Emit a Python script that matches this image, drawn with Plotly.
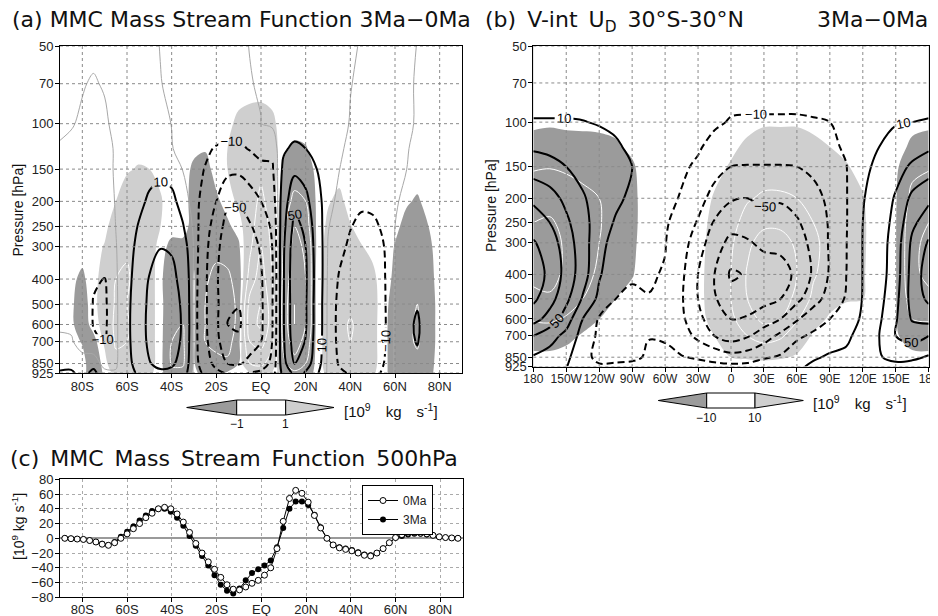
import numpy as np
import plotly.graph_objects as go

FONT = "DejaVu Sans"
TFONT = "Liberation Sans"
W, H = 938, 616
OFF = 8  # page margin of the host document, compensated in the layout helpers
DARK = "#9b9b9b"
LIGHT = "#cfcfcf"
EN = "\u2002"
EM = "\u2003"

# ---------------- shared axes data ----------------
PLEV = [50, 70, 100, 125, 150, 200, 250, 300, 400, 500, 600, 700, 850, 925]
P_TICKS = [50, 70, 100, 150, 200, 250, 300, 400, 500, 600, 700, 850, 925]
LAT_TICKS = [-80, -60, -40, -20, 0, 20, 40, 60, 80]
LAT_LABELS = ["80S", "60S", "40S", "20S", "EQ", "20N", "40N", "60N", "80N"]
LON_TICKS = [-180, -150, -120, -90, -60, -30, 0, 30, 60, 90, 120, 150, 180]
LON_LABELS = ["180", "150W", "120W", "90W", "60W", "30W", "0", "30E", "60E",
              "90E", "120E", "150E", "180"]

# ---------------- panel (a): latitude x pressure ----------------
LAT_A = list(range(-90, 91, 5))
# mass stream function, one column per latitude, values at PLEV
PSI_A_COLS = [
    [0.4, 0.3, 0.2, -0.1, -0.2, -0.4, -0.5, -0.5, -0.6, -0.5, -0.4, 0.5, 4, 12],
    [0.4, 0.2, 0.1, -0.3, -0.5, -0.8, -1, -1.2, -1.3, -1, -0.8, 0.5, 6, 12],
    [0.4, 0.1, -0.2, -0.8, -1.2, -1.8, -2.2, -2.5, -3, -3, -3, -2, 2, 6],
    [0.4, -0.15, -0.9, -1.5, -2.5, -4, -5.5, -7, -9, -10.5, -10.5, -8, 6, 13],
    [0.4, 0.15, -0.3, -1.2, -1.5, -3, -5, -7, -10.2, -12, -12, -10.5, -4, 3],
    [0.4, 0.3, 0.5, 0.4, 0.5, 0.4, 0.1, -0.3, -0.8, -1.2, -1.3, -1.2, -0.8, 0.5],
    [0.4, 0.4, 0.7, 1.2, 1.5, 2.2, 3, 3.8, 5, 6, 6.3, 6, 5, 4],
    [0.4, 0.4, 0.9, 2.5, 3.5, 6.5, 10.5, 13.5, 17, 19, 19.5, 19, 16, 12],
    [0.4, 0.3, 0.8, 3, 6, 12, 18.5, 24.5, 31, 34, 35, 34, 29, 22],
    [-0.05, 0.05, 0.5, 3, 7.4, 14.5, 22.5, 29.5, 37, 41, 42, 41, 35, 26.5],
    [-0.3, -0.3, -0.05, 0.4, 5, 13.5, 21.5, 28, 35, 39, 40, 39, 33, 25],
    [-0.4, -0.5, -1, -2.5, -0.3, 5, 11, 17, 24, 27, 28, 27, 23, 17],
    [-0.5, -0.6, -2, -5, -6, -4, -2, -1, -2, -3, -3, -3, -2.5, -1.5],
    [-0.5, -0.7, -2.5, -8, -10.5, -17, -22, -25, -27, -27, -27, -25.5, -21, -14],
    [-0.5, -0.7, -3, -11, -17, -30, -39, -44, -47, -46, -46, -44, -36, -25],
    [-0.5, -0.7, -3.3, -13, -25, -46, -58, -64, -67, -66, -70.5, -64, -50, -32],
    [-0.4, -0.6, -3.2, -13, -26, -48, -60, -66, -68, -69.5, -72, -67, -52, -34],
    [0.05, -0.1, -1.5, -9, -20, -40, -52, -58, -62, -62, -62, -58, -45, -29],
    [0.3, 0.2, -0.05, -5, -14, -30, -42, -48, -52, -53, -53, -50, -40, -26],
    [0.3, 0.4, 1.2, -6, -12, -20, -27, -30, -33, -32, -32, -30, -25, -18],
    [0.4, 0.6, 2, 8, 13, 20, 24, 27, 28, 28, 28, 27, 23, 16],
    [0.5, 0.7, 3, 12.8, 26, 45, 56, 62, 65, 64, 64, 61, 51, 35],
    [0.5, 0.7, 2.5, 10, 21, 36, 46, 50, 53, 52, 52, 49, 41, 29],
    [0.4, 0.6, 1.5, 5, 10, 16, 19, 21, 22, 21, 21, 20, 17, 12],
    [0.3, 0.4, 0.8, 2, 3, 2, 0.5, -0.5, -1.5, -2, -2, -2, -2, -1.5],
    [0.2, 0.2, 0.3, 0.5, 0.1, -1.5, -4, -7, -11, -13, -13.5, -13, -11, -8],
    [0.1, 0.03, -0.05, -0.7, -1.5, -6, -9.5, -12, -15.5, -17, -17.5, -17, -14.5, -11],
    [-0.05, -0.15, -0.5, -1.2, -2.5, -8, -12.7, -16.5, -20.7, -23, -23.7, -23, -19.5, -15],
    [-0.2, -0.3, -0.7, -1.5, -3, -7.7, -12, -15.8, -19.8, -22, -22.6, -22, -18.7, -14.3],
    [-0.3, -0.3, -0.6, -1.2, -2.2, -5, -8.5, -10.2, -11.5, -12, -12.4, -12, -10, -8],
    [-0.2, -0.25, -0.4, -0.6, -0.8, -0.5, 0, 0.4, 0.8, 1, 1.2, 1.2, 1, 0.8],
    [-0.2, -0.1, -0.1, -0.1, -0.05, 1, 2.5, 3.5, 5, 7, 8, 7.5, 5.5, 4],
    [0.02, 0.05, 0.05, 0.3, 0.6, 1.5, 3, 4.5, 6.5, 9.5, 11, 10.5, 7.5, 5],
    [0.2, 0.2, 0.3, 0.5, 0.6, 1, 1.8, 2.5, 3.5, 5, 6, 5.5, 4, 3],
    [0.2, 0.2, 0.3, 0.4, 0.4, 0.5, 0.8, 1, 1.5, 2, 2.5, 2.5, 2, 1.5],
    [0.1, 0.1, 0.15, 0.2, 0.2, 0.2, 0.3, 0.4, 0.5, 0.5, 0.7, 0.7, 0.6, 0.5],
    [0.05, 0.05, 0.05, 0.05, 0.05, 0.05, 0.1, 0.1, 0.1, 0.1, 0.1, 0.1, 0.1, 0.1],
]
# 3Ma - 0Ma difference (shaded), one column per latitude
DIFF_A_COLS = [
    [0, 0, 0, 0, 0, 0, 0, 0, 0, 0, 0, 0, 0, 0],
    [0, 0, 0, 0, 0, 0, 0, 0, -0.5, -0.5, -0.5, 0, 0.3, 0.3],
    [0, 0, 0, 0, 0, 0, 0, 0, -1.5, -2.5, -2.5, -1.2, 0, 0],
    [0, 0, 0, 0, 0, 0, 0, 0, 0.3, 0.5, 0, -2, -3, -3],
    [0, 0, 0, 0, 0, 0, 0.3, 1.2, 2, 2, 2, 1.5, 0, -0.5],
    [0, 0, 0, 0, 0, 1, 2.5, 3.5, 5, 5.5, 6, 5.5, 4, 2],
    [0, 0, 0, 0, 0.7, 2.5, 3.5, 4.5, 5.5, 5, 5.5, 5, 3.5, 2],
    [0, 0, 0, 0.3, 1.2, 2.5, 3, 3.5, 3.5, 3, 3, 3, 2.5, 1.5],
    [0, 0, 0, 0.2, 1, 2, 2.5, 2.5, 2.5, 2, 2, 2, 2, 1.5],
    [0, 0, 0, 0, 0.5, 1.2, 1, 0, -0.5, 0, 0, 0, 0, 0],
    [0, 0, 0, 0, 0, 0, 0, -1.8, -3, -4, -4.5, -5, -5.5, -4],
    [0, 0, 0, 0, 0, 0, 0, -1.8, -3, -4.5, -5, -5.5, -5.5, -4],
    [0, 0, 0, -0.5, -1.5, -2, -2, -1.5, -0.8, -0.8, -0.8, -0.8, -0.8, -0.5],
    [0, 0, 0, -0.8, -2, -3, -3.5, -4, -4.5, -5, -5, -5, -4, -2],
    [0, 0, 0, 0.3, 0, -1.5, -3, -4, -6, -7, -7, -6, -4, -2],
    [0, 0, 0.5, 1, 1, 0, -1.5, -3, -6, -9, -9, -7, -4, -0.5],
    [0, 0, 1.5, 2, 2, 1.5, 0, -1.5, -3, -3, -3, -2, -1, 0],
    [0, 0, 2, 3, 3, 3, 3, 4, 7, 12, 13, 10, 5, 1],
    [0, 0.3, 1.8, 3, 4, 6, 8, 10, 13, 15, 16, 12, 6, 2],
    [0, 0, 1.5, 2.5, 3, 3, 3.5, 4, 5, 7, 7, 6, 3, 1],
    [0, 0, 0, -0.5, -1.5, -3, -4, -5, -6, -7, -7, -6, -4, -2],
    [0, 0, 0, -1.5, -3, -6, -10, -12, -14, -15, -15, -13, -8, -4],
    [0, 0, 0, -1.2, -2.5, -5, -7, -9, -10, -10, -10, -8, -5, -3],
    [0, 0, 0, 0, -0.3, -0.5, -0.5, -0.5, 0, 0, 0, 0, 0, 0],
    [0, 0, 0, 0, 0, 0.8, 1.5, 2, 2, 2, 2, 2, 2, 1.5],
    [0, 0, 0, 0, 0.3, 1.5, 2, 2.5, 3, 3, 3.5, 3.5, 3, 2],
    [0, 0, 0, 0, 0, 0.3, 1.1, 2, 3, 4, 5.5, 5, 3.5, 2.5],
    [0, 0, 0, 0, 0, 0, 0.3, 1.1, 2.5, 3, 3.5, 3.5, 3, 2],
    [0, 0, 0, 0, 0, 0, 0, 0.5, 1.5, 2, 2, 2, 2, 1.5],
    [0, 0, 0, 0, 0, 0, 0, 0, 0, -0.3, -0.5, -0.5, -0.5, -0.5],
    [0, 0, 0, 0, 0, -0.3, -0.6, -1.1, -1.5, -2, -2, -2, -2, -2],
    [0, 0, 0, 0, 0, -0.8, -1.5, -2, -3, -3.5, -4, -4, -3.5, -3],
    [0, 0, 0, 0, -0.3, -1.2, -2, -3, -4, -5, -5.5, -5.5, -4, -3],
    [0, 0, 0, 0, 0, -0.5, -1, -1.5, -2, -2.5, -2.5, -2.5, -2, -1.5],
    [0, 0, 0, 0, 0, 0, 0, 0, 0, 0, 0, 0, 0, -0.3],
    [0, 0, 0, 0, 0, 0, 0, 0, 0, 0, 0, 0, 0, 0],
    [0, 0, 0, 0, 0, 0, 0, 0, 0, 0, 0, 0, 0, 0],
]

# ---------------- panel (b): longitude x pressure ----------------
LON_B = list(range(-180, 181, 15))
U_B_COLS = [
    [-2, 1, 11, 27, 40, 66, 80, 92, 100, 94, 78, 50, 28, 22],
    [-2, 1, 11, 25, 36, 58, 70, 80, 85.5, 78, 62, 38, 22, 15],
    [-2, 1, 11, 22, 30, 45, 54, 60, 63, 55, 40, 24, 15, 11],
    [-2, 0.5, 10.5, 18, 24, 32, 37, 39, 39, 28, 10, 3, -5, -6],
    [-2, 0, 9, 15, 20, 22, 20, 16, 12, 5, -12, -14, -14, -8],
    [-2, 0, 7, 12, 16, 14, 8, 3, -3, -10, -15, -16, -14, -7],
    [-2, 0, 4, 7, 10, 6, 2, -2, -8, -13, -15, -15, -13, -6],
    [-2, -0.5, 0, -1, -2, -4, -5.5, -7, -8.5, -10.5, -11, -10.5, -8, -3],
    [-2, -1, -1.5, -2.5, -3.5, -6.5, -8, -9.3, -11, -14, -14, -11.5, -7, -2],
    [-2, -1.5, -3, -6, -8, -11, -17, -22, -26, -28, -26, -20, -9, -3],
    [-3, -3, -5, -8.5, -12, -22, -32, -40, -50, -50, -45, -35, -12, -4],
    [-3, -4, -8, -14, -22, -38, -52, -62, -70, -68, -60, -50, -16, -5],
    [-3, -4, -11, -19, -30, -48, -63, -75, -93, -82, -70, -60, -22, -5],
    [-3, -4, -11.5, -20, -31, -50, -62, -72, -88, -80, -68, -52, -20, -4],
    [-3, -4, -11.5, -20, -31, -46, -56, -66, -80, -76, -60, -40, -12, 0],
    [-3, -4, -11.5, -20, -31, -48, -58, -66, -76, -70, -50, -25, -8, 0],
    [-3, -4, -11.5, -19, -30, -44, -52, -58, -67, -55, -32, -13, 0, 7],
    [-2, -3, -11, -17, -26, -36, -42, -45, -47, -38, -18, -7, 8, 13],
    [-2, -3, -10, -13, -20, -26, -28, -28, -28, -22, -10, 2, 12, 14],
    [-1, -2, -5, -8, -10.5, -11, -11, -10.5, -10, -8, -4, 6, 14, 14],
    [0, 0, 1, 3, 6, 9, 10, 10.5, 10.5, 11, 14, 18, 20, 16],
    [0, 1, 6, 10, 14, 18, 20, 21, 22, 24, 27, 30, 28, 20],
    [0, 2, 9, 16, 23, 32, 36, 39, 40, 44, 48, 50, 38, 22],
    [-1, 1, 10, 22, 33, 55, 66, 74, 78, 78, 72, 58, 34, 22],
    [-2, 1, 11, 27, 40, 66, 80, 92, 100, 94, 78, 50, 28, 22],
]
DIFF_B_COLS = [
    [0, -1, -7, -16, -28, -42, -50, -53, -53, -47, -32, -20, -6, -1],
    [0, -1, -8, -17, -29, -44, -52, -55, -55, -48, -33, -20, -6, -1],
    [0, -1, -7, -16, -27, -40, -46, -48, -47, -40, -28, -15, -4, 0],
    [0, -1, -7, -15, -24, -35, -38, -38, -36, -30, -18, -8, -2, 0],
    [0, -1, -7, -14, -22, -30, -31, -30, -27, -20, -10, -4, -1, 0],
    [0, -1, -6, -12, -19, -24, -24, -22, -18, -10, -4, -1, 0, 0],
    [0, 0, -3, -7, -12, -14, -14, -13, -11, -5, -1, 0, 0, 0],
    [0, 0, -1, -2, -2, -2, -2, -2, -1.5, -1, 0, 0, 0, 0],
    [0, 0, 0, 0.5, 1, 1.5, 2, 2, 2, 2, 2, 2, 1, 0],
    [0, 0, 1, 1.5, 2, 3, 3.5, 4, 4, 4, 4, 4, 3, 1],
    [0, 0, 1.5, 2.5, 3.5, 5, 6, 6.5, 7, 7, 7, 6.5, 5, 2],
    [0, 0, 2, 4, 7, 11, 13, 14, 15, 15, 13, 10, 6, 2],
    [0, 0, 4, 8, 11, 18, 23, 27, 30, 30, 26, 20, 10, 3],
    [0, 1, 7, 12, 17, 28, 38, 46, 52, 50, 42, 30, 12, 3],
    [0, 1, 9, 14, 20, 33, 46, 58, 70, 66, 55, 38, 14, 3],
    [0, 1, 9, 14, 20, 33, 46, 57, 66, 62, 50, 33, 12, 2],
    [0, 1, 9, 14, 19, 30, 40, 47, 50, 44, 32, 20, 8, 1],
    [0, 1, 8, 12, 16, 24, 30, 33, 32, 26, 16, 8, 3, 0],
    [0, 1, 6, 10, 14, 20, 24, 25, 22, 15, 8, 3, 1, 0],
    [0, 0, 4, 7, 11, 16, 18, 18, 16, 11, 5, 1, 0, 0],
    [0, 0, 2, 4, 6, 11, 13, 13, 12, 10.5, 3, 0, 0, 0],
    [0, 0, 0, 0, 0, -1, -2, -2, -2, -2, -1, 0, 0, 0],
    [0, 0, -2, -4, -7, -8.5, -9, -9, -9, -9, -8.5, -8, -4, 0],
    [0, -1, -6, -13, -24, -36, -44, -47, -47, -41, -30, -18, -6, -1],
    [0, -1, -7, -16, -28, -42, -50, -53, -53, -47, -32, -20, -6, -1],
]

# ---------------- panel (c): 500 hPa stream function ----------------
LAT_C = [-87.86, -85.10, -82.31, -79.53, -76.74, -73.95, -71.16, -68.37, -65.58,
         -62.79, -60.00, -57.21, -54.42, -51.63, -48.84, -46.04, -43.25, -40.46,
         -37.67, -34.88, -32.09, -29.30, -26.51, -23.72, -20.93, -18.14, -15.35,
         -12.56, -9.77, -6.98, -4.19, -1.40, 1.40, 4.19, 6.98, 9.77, 12.56, 15.35,
         18.14, 20.93, 23.72, 26.51, 29.30, 32.09, 34.88, 37.67, 40.46, 43.25,
         46.04, 48.84, 51.63, 54.42, 57.21, 60.00, 62.79, 65.58, 68.37, 71.16,
         73.95, 76.74, 79.53, 82.31, 85.10, 87.86]
PSI500_0MA = [0, -0.5, -1, -1.5, -3, -5, -8, -9.5, -6, 0, 6, 13, 20, 28, 34, 40, 42, 40,
              33, 22, 8, -7, -20, -32, -42, -53, -63, -69, -70, -66, -61, -57, -50, -40,
              -14, 23, 54, 65, 61, 49, 31, 14, 0, -9, -13, -15, -17, -20, -23, -24, -20,
              -14, -6, 1, 5, 7, 8, 7, 6, 4, 2, 1, 0.5, 0]
PSI500_3MA = [0, -0.5, -1, -1.5, -3, -5, -7.5, -9, -5, 2, 9, 16, 24, 31, 37, 40, 40, 36,
              28, 17, 3, -10, -24, -37, -50, -63, -71, -75, -68, -57, -47, -42, -37, -30,
              -12, 14, 40, 50, 50, 45, 32, 15, 0, -9, -12, -14, -16, -19, -22, -23, -20,
              -14, -6, 1, 3, 5, 6, 6, 5, 4, 2, 1, 0.5, 0]
C_YTICKS = [-80, -60, -40, -20, 0, 20, 40, 60, 80]


def px(x):
    return (x - OFF) / W


def py(y):
    return 1 - (y - OFF) / H


def fill_trace(x, y, z, thr, xa, ya):
    return go.Contour(
        x=x, y=y, z=z, autocontour=False,
        contours=dict(start=-thr, end=thr, size=2 * thr, coloring="fill", showlines=False),
        colorscale=[[0, DARK], [0.5, "white"], [1, LIGHT]], showscale=False,
        line=dict(width=0), hoverinfo="skip", showlegend=False, xaxis=xa, yaxis=ya)


def line_trace(x, y, z, start, end, size, color, width, xa, ya, dash="solid", labels=False):
    return go.Contour(
        x=x, y=y, z=z, autocontour=False,
        contours=dict(start=start, end=end, size=size, coloring="none", showlabels=labels,
                      labelfont=dict(family=TFONT, size=13, color="black")),
        line=dict(color=color, width=width, dash=dash, smoothing=1),
        showscale=False, hoverinfo="skip", showlegend=False, xaxis=xa, yaxis=ya)


def grid_traces(xticks, xr, yticks, yr, xa, ya):
    gx, gy = [], []
    for t in xticks:
        gx += [t, t, None]
        gy += [yr[0], yr[1], None]
    for t in yticks:
        gx += [xr[0], xr[1], None]
        gy += [t, t, None]
    return go.Scatter(x=gx, y=gy, mode="lines", line=dict(color="#8a8a8a", width=1, dash="dot"),
                      hoverinfo="skip", showlegend=False, xaxis=xa, yaxis=ya)


DASH = "7px,4px"
fig = go.Figure()

# ----- panel (a)
zpa = np.array(PSI_A_COLS).T
zda = np.array(DIFF_A_COLS).T
fig.add_trace(fill_trace(LAT_A, PLEV, zda, 1, "x", "y"))
fig.add_trace(line_trace(LAT_A, PLEV, zda, 5, 15, 5, "white", 1, "x", "y"))
fig.add_trace(line_trace(LAT_A, PLEV, zda, -15, -5, 5, "white", 1, "x", "y"))
fig.add_trace(line_trace(LAT_A, PLEV, zpa, 0, 0.5, 1, "#a8a8a8", 1, "x", "y"))
fig.add_trace(line_trace(LAT_A, PLEV, zpa, 30, 70, 40, "black", 2, "x", "y"))
fig.add_trace(line_trace(LAT_A, PLEV, zpa, 10, 50, 40, "black", 2, "x", "y", labels=True))
fig.add_trace(line_trace(LAT_A, PLEV, zpa, -70, -30, 40, "black", 2, "x", "y", dash=DASH))
fig.add_trace(line_trace(LAT_A, PLEV, zpa, -50, -10, 40, "black", 2, "x", "y", dash=DASH, labels=True))
fig.add_trace(grid_traces(LAT_TICKS, [-90, 90], P_TICKS, [50, 925], "x", "y"))

# ----- panel (b)
zub = np.array(U_B_COLS).T
zdb = np.array(DIFF_B_COLS).T
fig.add_trace(fill_trace(LON_B, PLEV, zdb, 10, "x2", "y2"))
fig.add_trace(line_trace(LON_B, PLEV, zdb, 30, 70, 20, "white", 1, "x2", "y2"))
fig.add_trace(line_trace(LON_B, PLEV, zdb, -70, -30, 20, "white", 1, "x2", "y2"))
fig.add_trace(line_trace(LON_B, PLEV, zub, 30, 70, 40, "black", 2, "x2", "y2"))
fig.add_trace(line_trace(LON_B, PLEV, zub, 10, 90, 40, "black", 2, "x2", "y2", labels=True))
fig.add_trace(line_trace(LON_B, PLEV, zub, -70, -30, 40, "black", 2, "x2", "y2", dash=DASH))
fig.add_trace(line_trace(LON_B, PLEV, zub, -90, -10, 40, "black", 2, "x2", "y2", dash=DASH, labels=True))
fig.add_trace(grid_traces(LON_TICKS[1:-1], [-180, 180], P_TICKS, [50, 925], "x2", "y2"))

# ----- panel (c)
fig.add_trace(go.Scatter(x=LAT_C, y=PSI500_3MA, mode="lines+markers", name="3Ma",
                         line=dict(color="black", width=1),
                         marker=dict(symbol="circle", size=6, color="black"),
                         legendrank=2, xaxis="x3", yaxis="y3"))
fig.add_trace(go.Scatter(x=LAT_C, y=PSI500_0MA, mode="lines+markers", name="0Ma",
                         line=dict(color="black", width=1),
                         marker=dict(symbol="circle", size=6, color="white",
                                     line=dict(color="black", width=1)),
                         legendrank=1, xaxis="x3", yaxis="y3"))

tickfont = dict(family=TFONT, size=13, color="#222")
frame = dict(showline=True, mirror=True, linecolor="black", linewidth=1, ticks="outside",
             ticklen=4, tickcolor="black", zeroline=False, tickfont=tickfont, tickangle=0,
             automargin=False)
p_axis = dict(type="log", range=[np.log10(925), np.log10(50)], tickvals=P_TICKS,
              ticktext=[str(p) for p in P_TICKS], showgrid=False, ticklabelstandoff=-1, **frame)

fig.update_layout(
    template="none",
    width=W, height=H, margin=dict(l=0, r=0, t=0, b=0, pad=0), autosize=False,
    paper_bgcolor="white", plot_bgcolor="white",
    font=dict(family=TFONT, size=13, color="#222"),
    xaxis=dict(domain=[px(60), px(462)], range=[-90, 90], tickvals=LAT_TICKS,
               ticktext=LAT_LABELS, showgrid=False, anchor="y", ticklabelstandoff=-3, **frame),
    yaxis=dict(domain=[py(373), py(46)], anchor="x", **p_axis),
    xaxis2=dict(domain=[px(533.3), px(928.7)], range=[-180, 180], tickvals=LON_TICKS,
                ticktext=LON_LABELS, showgrid=False, anchor="y2", ticklabelstandoff=-3,
                **{**frame, "tickfont": dict(family=TFONT, size=12, color="#222")}),
    yaxis2=dict(domain=[py(366.5), py(46)], anchor="x2", **p_axis),
    xaxis3=dict(domain=[px(60), px(462.7)], range=[-90, 90], tickvals=LAT_TICKS,
                ticktext=LAT_LABELS, showgrid=True, gridcolor="#aaaaaa", griddash="dot",
                gridwidth=1, anchor="y3", ticklabelstandoff=-4, **frame),
    yaxis3=dict(domain=[py(597.3), py(479.3)], range=[-80, 80], tickvals=C_YTICKS,
                ticktext=[str(v).replace("-", "\u2212") for v in C_YTICKS],
                showgrid=True, gridcolor="#aaaaaa", griddash="dot", gridwidth=1, anchor="x3",
                ticklabelstandoff=-1,
                **{**frame, "zeroline": True, "zerolinecolor": "#9a9a9a", "zerolinewidth": 1.5}),
    showlegend=True,
    legend=dict(x=px(362), y=py(485), xanchor="left", yanchor="top", bgcolor="white",
                bordercolor="black", borderwidth=1, font=dict(family=TFONT, size=12),
                tracegroupgap=0, itemwidth=30),
)

ann = []


def text(x, y, s, size, xanchor="left", angle=0, family=FONT, yanchor="middle"):
    ann.append(dict(x=px(x), y=py(y), xref="paper", yref="paper", text=s, showarrow=False,
                    xanchor=xanchor, yanchor=yanchor, textangle=angle,
                    font=dict(family=family, size=size, color="#111")))


UNITS = f"[10<sup>9</sup>{EM}kg{EM}s<sup>-1</sup>]"
text(10, 20, "(a) MMC Mass Stream Function 3Ma\u22120Ma", 22)
text(483, 22, f"(b){EN}V-int{EN}U<sub>D</sub>{EN}30\u00b0S-30\u00b0N", 22)
text(930, 20, "3Ma\u22120Ma", 22, xanchor="right")
text(8, 459, f"(c){EN}MMC{EN}Mass{EN}Stream{EN}Function{EN}500hPa", 22)
text(17.5, 210, "Pressure [hPa]", 14, xanchor="center", angle=-90, family=TFONT)
text(491, 206, "Pressure [hPa]", 14, xanchor="center", angle=-90, family=TFONT)
text(18, 527, "[10<sup>9</sup> kg s<sup>-1</sup>]", 14, xanchor="center", angle=-90, family=TFONT)

# colour keys
shapes = []


def key(xl, xb0, xb1, xr, yt, yb, lab0, lab1, ylab, xu, yu):
    ym = (yt + yb) / 2
    shapes.append(dict(type="path", xref="paper", yref="paper",
                       path=f"M {px(xl)},{py(ym)} L {px(xb0)},{py(yt)} L {px(xb0)},{py(yb)} Z",
                       fillcolor=DARK, line=dict(color="black", width=1)))
    shapes.append(dict(type="rect", xref="paper", yref="paper", x0=px(xb0), x1=px(xb1),
                       y0=py(yb), y1=py(yt), fillcolor="white", line=dict(color="black", width=1)))
    shapes.append(dict(type="path", xref="paper", yref="paper",
                       path=f"M {px(xr)},{py(ym)} L {px(xb1)},{py(yt)} L {px(xb1)},{py(yb)} Z",
                       fillcolor=LIGHT, line=dict(color="black", width=1)))
    text(xb0, ylab, lab0, 12, xanchor="center", family=TFONT)
    text(xb1, ylab, lab1, 12, xanchor="center", family=TFONT)
    text(xu, yu, UNITS, 15, family=TFONT)


key(186.7, 236.7, 285.7, 334, 400, 415, "\u22121", "1", 424, 342, 410)
key(658.3, 706.7, 755, 803.3, 393, 408, "\u221210", "10", 418, 811, 402)

fig.update_layout(annotations=ann, shapes=shapes)
fig.write_html("out.html")
